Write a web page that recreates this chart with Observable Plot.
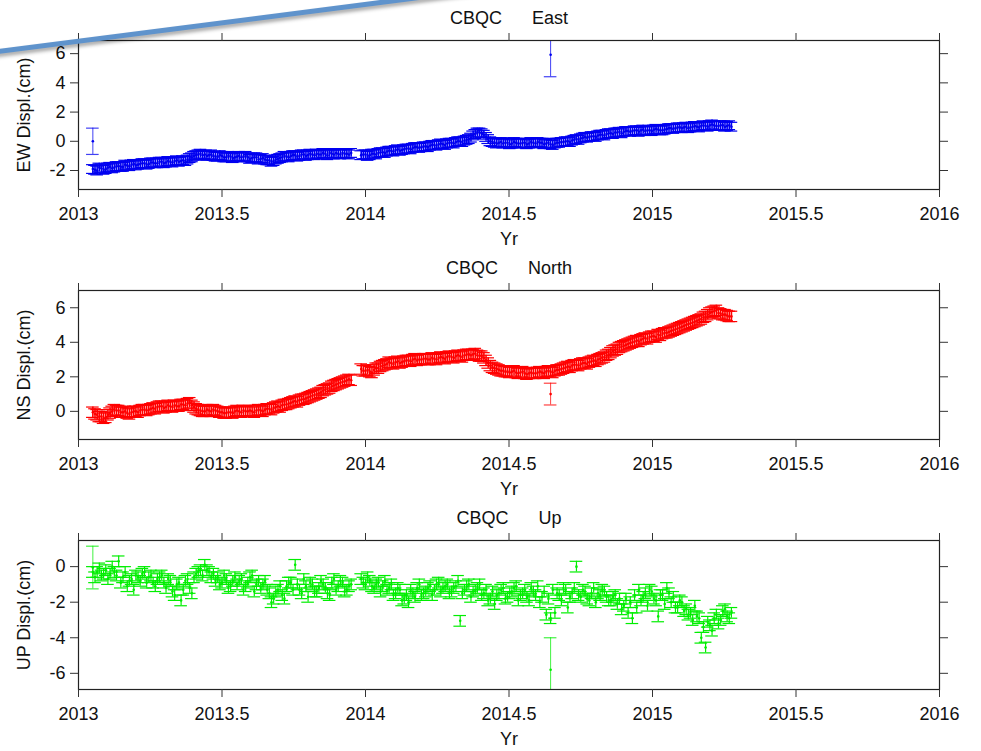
<!DOCTYPE html>
<html>
<head>
<meta charset="utf-8">
<script src="https://cdn.jsdelivr.net/npm/d3@7"></script>
<script src="https://cdn.jsdelivr.net/npm/@observablehq/plot@0.6"></script>
<style>
  html, body { margin: 0; padding: 0; background: #fff; }
  #wrap { position: relative; width: 981px; height: 751px; overflow: hidden; }
  #wrap svg { display: block; }
  #deco { position: absolute; left: -10px; top: 50px; width: 520px; height: 5px; background: #5f93cc;
          transform-origin: 0 50%; transform: rotate(-7.3deg); box-shadow: 1px 3px 4px rgba(0,0,0,0.35); }
</style>
</head>
<body>
<div id="wrap"></div>
<script>
// ---- data (cm), daily GPS solution samples ----
const station = "CBQC";
const segStart = [2013.05, 2013.985];   // start of the two data segments (yr)
const step = 0.015;                     // sampling interval (yr); second set is offset by half a step
const xTicks = [2013, 2013.5, 2014, 2014.5, 2015, 2015.5, 2016];

const eastA = [-1.9,-2.0,-1.85,-1.9,-1.75,-1.8,-1.7,-1.75,-1.65,-1.6,-1.65,-1.55,-1.5,-1.55,-1.45,-1.5,-1.4,-1.45,-1.4,-1.35,-1.4,-1.3,-1.25,-1.1,-0.95,-0.85,-0.9,-0.95,-1.0,-1.05,-1.0,-1.1,-1.05,-1.1,-1.0,-1.05,-1.1,-1.15,-1.1,-1.2,-1.25,-1.3,-1.35,-1.2,-1.1,-1.05,-1.0,-0.95,-1.0,-0.9,-0.95,-0.9,-0.85,-0.9,-0.85,-0.8,-0.9,-0.85,-0.8,-0.85,-0.8];
const eastA2 = [-1.95,-1.8,-1.95,-1.8,-1.85,-1.7,-1.75,-1.6,-1.7,-1.55,-1.6,-1.5,-1.6,-1.45,-1.5,-1.4,-1.5,-1.35,-1.45,-1.3,-1.35,-1.35,-1.15,-1.0,-0.9,-0.95,-1.0,-0.9,-1.05,-0.95,-1.1,-1.0,-1.15,-1.05,-1.1,-1.0,-1.2,-1.1,-1.25,-1.15,-1.3,-1.4,-1.25,-1.15,-1.0,-1.1,-0.95,-1.05,-0.9,-1.0,-0.85,-0.95,-0.9,-0.8,-0.95,-0.85,-0.8,-0.9,-0.85,-0.9];
const eastB = [-0.95,-0.9,-0.95,-0.85,-0.8,-0.75,-0.7,-0.65,-0.6,-0.65,-0.55,-0.5,-0.45,-0.4,-0.4,-0.35,-0.3,-0.25,-0.2,-0.2,-0.15,-0.1,-0.05,0.0,0.05,0.15,0.4,0.6,0.55,0.3,0.0,-0.1,-0.1,-0.15,-0.1,-0.15,-0.1,-0.15,-0.1,-0.15,-0.1,-0.05,-0.1,-0.15,-0.2,-0.15,-0.1,-0.05,0.0,0.05,0.15,0.2,0.3,0.3,0.35,0.4,0.45,0.5,0.55,0.6,0.65,0.65,0.7,0.7,0.75,0.75,0.7,0.75,0.8,0.8,0.75,0.85,0.9,0.9,0.95,0.95,0.9,1.0,1.0,1.05,1.05,1.1,1.1,1.05,1.1,1.05,1.0];
const eastB2 = [-0.9,-1.0,-0.85,-0.9,-0.75,-0.8,-0.65,-0.7,-0.55,-0.6,-0.5,-0.55,-0.4,-0.45,-0.35,-0.4,-0.25,-0.3,-0.15,-0.25,-0.1,-0.15,0.0,-0.05,0.1,0.25,0.5,0.6,0.45,0.15,-0.05,-0.15,-0.05,-0.1,-0.2,-0.05,-0.15,-0.1,-0.2,-0.05,-0.15,-0.1,-0.2,-0.1,-0.25,-0.1,-0.05,0.0,-0.05,0.1,0.1,0.25,0.25,0.35,0.3,0.45,0.4,0.55,0.5,0.6,0.55,0.7,0.65,0.75,0.65,0.8,0.75,0.7,0.85,0.75,0.8,0.9,0.85,0.95,0.9,1.0,0.95,1.05,0.95,1.1,1.0,1.15,1.05,1.1,1.0,1.1];
const northA = [-0.05,-0.2,-0.3,-0.35,-0.1,0.1,0.05,-0.05,-0.1,-0.05,0.0,0.05,0.1,0.1,0.2,0.25,0.3,0.25,0.3,0.35,0.3,0.4,0.45,0.35,0.15,0.05,0.0,0.05,0.1,0.0,-0.05,-0.1,-0.05,0.0,0.0,0.05,0.0,0.0,0.05,0.05,0.1,0.15,0.2,0.3,0.35,0.4,0.5,0.6,0.65,0.7,0.8,0.9,1.0,1.1,1.25,1.35,1.5,1.6,1.7,1.8,1.8];
const northA2 = [-0.15,-0.3,-0.4,-0.2,0.0,0.05,-0.05,0.0,-0.15,0.0,-0.05,0.1,0.05,0.15,0.15,0.3,0.2,0.35,0.25,0.3,0.4,0.35,0.5,0.25,0.1,0.0,0.1,0.0,0.05,-0.05,-0.1,-0.05,-0.1,0.05,-0.05,0.0,0.05,-0.05,0.1,0.0,0.15,0.1,0.25,0.25,0.4,0.45,0.55,0.55,0.7,0.75,0.85,0.95,1.05,1.2,1.3,1.45,1.55,1.65,1.75,1.85];
const northB = [2.45,2.35,2.3,2.4,2.5,2.65,2.75,2.8,2.85,2.8,2.9,2.95,3.0,2.95,3.0,3.05,3.0,3.05,3.1,3.1,3.15,3.15,3.2,3.2,3.25,3.3,3.3,3.25,3.2,2.95,2.65,2.5,2.4,2.35,2.3,2.3,2.25,2.25,2.2,2.2,2.2,2.25,2.25,2.3,2.3,2.35,2.4,2.5,2.6,2.65,2.7,2.75,2.8,2.85,2.95,3.0,3.1,3.25,3.4,3.55,3.7,3.8,3.9,4.0,4.1,4.15,4.25,4.3,4.35,4.45,4.5,4.55,4.65,4.75,4.85,4.95,5.05,5.15,5.25,5.35,5.5,5.7,5.8,5.7,5.6,5.55,5.5];
const northB2 = [2.35,2.4,2.25,2.5,2.6,2.7,2.85,2.75,2.9,2.85,2.95,2.9,3.05,3.0,3.05,3.0,3.1,3.0,3.15,3.05,3.2,3.1,3.25,3.15,3.3,3.25,3.35,3.2,3.1,2.8,2.55,2.45,2.35,2.3,2.25,2.35,2.2,2.3,2.15,2.25,2.2,2.3,2.2,2.35,2.25,2.4,2.45,2.55,2.55,2.7,2.65,2.8,2.75,2.9,2.9,3.05,3.15,3.3,3.5,3.6,3.75,3.85,3.95,4.05,4.05,4.2,4.2,4.35,4.3,4.4,4.55,4.6,4.7,4.8,4.9,5.0,5.1,5.2,5.3,5.45,5.6,5.75,5.85,5.65,5.6,5.5];
const upA = [-0.3,-0.3,-0.5,-0.2,-0.4,-0.3,0.3,-0.6,-1.1,-0.7,-0.5,-0.8,-0.3,-0.6,-0.9,-0.7,-0.5,-1.2,-0.8,-1.6,-0.9,-1.3,-0.7,-1.5,-0.4,-0.2,0.1,-0.3,-0.4,-0.6,-0.9,-0.7,-1.1,-0.6,-0.8,-1.3,-0.9,-0.5,-1.0,-1.2,-0.8,-1.5,-1.8,-1.3,-1.6,-1.1,-0.9,0.1,-1.3,-0.7,-1.7,-1.0,-1.4,-0.8,-1.2,-1.6,-0.7,-1.1,-0.9,-1.3,-1.0];
const upA2 = [-0.6,-0.1,-0.4,-0.7,0.0,-0.5,-0.9,-0.3,-0.8,-1.3,-0.6,-0.4,-0.9,-0.5,-1.1,-0.6,-0.9,-0.7,-1.4,-1.0,-1.9,-0.8,-1.2,-0.6,-0.3,-0.5,-0.2,-0.6,-0.8,-1.0,-0.5,-1.2,-0.8,-1.0,-0.7,-1.1,-0.6,-1.4,-0.8,-1.0,-1.3,-2.0,-1.4,-1.1,-1.8,-0.9,-1.3,-1.0,-1.5,-1.1,-0.9,-1.4,-1.2,-1.0,-1.5,-0.9,-1.3,-0.8,-1.4,-1.1];
const upB = [-0.7,-1.0,-0.8,-1.2,-0.9,-1.1,-1.3,-1.0,-1.5,-1.3,-1.8,-2.0,-1.5,-1.2,-1.6,-1.4,-1.1,-1.3,-0.9,-1.2,-1.0,-1.4,-1.1,-3.05,-1.3,-1.0,-1.4,-1.2,-1.6,-1.3,-1.8,-2.1,-1.5,-1.2,-1.7,-1.4,-1.1,-1.6,-1.3,-1.9,-1.4,-1.1,-1.7,-2.7,-2.9,-2.6,-1.6,-1.2,-2.3,-1.5,0.0,-1.7,-1.4,-1.9,-1.2,-1.5,-1.3,-1.7,-1.9,-1.6,-1.8,-2.2,-2.6,-2.9,-2.3,-1.9,-1.5,-1.3,-1.8,-2.8,-1.6,-1.2,-2.0,-2.3,-1.9,-2.5,-2.7,-3.0,-2.8,-4.0,-4.55,-3.3,-2.9,-3.2,-2.5,-2.8,-2.6];
const upB2 = [-0.9,-0.6,-1.1,-1.0,-1.4,-0.8,-1.2,-1.6,-1.2,-1.9,-1.6,-1.3,-1.7,-1.0,-1.5,-1.2,-1.6,-1.0,-1.4,-1.1,-1.5,-1.2,-0.8,-1.5,-1.1,-1.7,-1.3,-1.0,-1.5,-1.9,-1.4,-1.6,-1.3,-1.8,-1.5,-1.2,-1.9,-1.5,-1.7,-1.2,-1.6,-2.0,-1.4,-1.8,-1.3,-1.5,-1.9,-1.3,-1.7,-1.2,-1.6,-1.3,-1.8,-1.5,-2.0,-1.6,-1.4,-1.9,-1.7,-2.1,-2.4,-1.8,-2.0,-1.6,-1.3,-1.7,-2.2,-1.4,-1.9,-1.6,-2.1,-1.5,-1.7,-2.3,-2.0,-2.4,-2.6,-2.2,-2.9,-3.4,-3.1,-3.6,-2.7,-3.0,-2.4,-2.9];
const errE = 0.3, errN = 0.3, errU = 0.3;

// isolated points with large uncertainty
const eastOutT = [2013.05, 2014.645], eastOutV = [0.0, 5.92], eastOutE = [0.9, 1.5];
const northOutT = [2014.645], northOutV = [1.0], northOutE = [0.63];
const upOutT = [2013.05, 2014.645], upOutV = [-0.05, -5.8], upOutE = [1.2, 1.8];

const panels = [
  {comp: "East",  ylabel: "EW Displ.(cm)", sets: [eastA, eastB, eastA2, eastB2],   err: errE, oT: eastOutT,  oV: eastOutV,  oE: eastOutE,  yDomain: [-3.3, 6.9],  yTicks: [-2, 0, 2, 4, 6], color: "#0000f0", sw: 1.6},
  {comp: "North", ylabel: "NS Displ.(cm)", sets: [northA, northB, northA2, northB2], err: errN, oT: northOutT, oV: northOutV, oE: northOutE, yDomain: [-1.63, 7.0], yTicks: [0, 2, 4, 6],     color: "#ff0000", sw: 1.6},
  {comp: "Up",    ylabel: "UP Displ.(cm)", sets: [upA, upB, upA2, upB2],           err: errU, oT: upOutT,    oV: upOutV,    oE: upOutE,    yDomain: [-6.91, 1.47], yTicks: [-6, -4, -2, 0], color: "#00ee00", sw: 1.2}
];

const cap = 0.022;
const fmt = d => String(d);
const wrap = document.getElementById("wrap");

panels.forEach((p, k) => {
  const [a, b, a2, b2] = p.sets;
  const rows = (arr, t0) => arr.map((v, i) => ({t: t0 + i * step, v, e: p.err}));
  const data = [
    ...rows(a, segStart[0]), ...rows(b, segStart[1]),
    ...rows(a2, segStart[0] + step / 2), ...rows(b2, segStart[1] + step / 2)
  ];
  const outs = p.oT.map((t, i) => ({t, v: p.oV[i], e: p.oE[i]}));
  const errMarks = (arr, sw, op) => [
    Plot.ruleX(arr, {x: "t", y1: d => d.v - d.e, y2: d => d.v + d.e, stroke: p.color, strokeWidth: sw, strokeOpacity: op, clip: true}),
    Plot.ruleY(arr, {y: d => d.v + d.e, x1: d => d.t - cap, x2: d => d.t + cap, stroke: p.color, strokeWidth: 1.2, strokeOpacity: op, clip: true}),
    Plot.ruleY(arr, {y: d => d.v - d.e, x1: d => d.t - cap, x2: d => d.t + cap, stroke: p.color, strokeWidth: 1.2, strokeOpacity: op, clip: true}),
    Plot.dot(arr, {x: "t", y: "v", r: 1.3, fill: p.color, stroke: null, clip: true})
  ];
  const svg = Plot.plot({
    width: 981,
    height: k === 2 ? 251 : 250,
    marginLeft: 78,
    marginRight: 42,
    marginTop: 40,
    marginBottom: k === 2 ? 62 : 61,
    style: {fontFamily: "'Liberation Sans', Arial, Helvetica, sans-serif", fontSize: "18px", color: "#111", background: "white"},
    x: {domain: [2013, 2016]},
    y: {domain: p.yDomain},
    marks: [
      ...errMarks(data, p.sw, 1),
      ...errMarks(outs, 1, 0.75),
      Plot.frame({stroke: "#222", strokeWidth: 1.2}),
      Plot.axisX({anchor: "bottom", ticks: xTicks, tickFormat: fmt, tickSize: 8, tickPadding: 10, label: null, stroke: "#333"}),
      Plot.axisX({anchor: "top", ticks: xTicks, tickFormat: () => "", tickSize: 8, label: null, stroke: "#333"}),
      Plot.axisY({anchor: "left", ticks: p.yTicks, tickFormat: fmt, tickSize: 8, tickPadding: 5, label: null, stroke: "#333"}),
      Plot.axisY({anchor: "right", ticks: p.yTicks, tickFormat: () => "", tickSize: 8, label: null, stroke: "#333"}),
      Plot.text([`${station}\u00a0\u00a0\u00a0\u00a0\u00a0\u00a0${p.comp}`], {frameAnchor: "top", dy: -22, lineAnchor: "middle", fill: "#111"}),
      Plot.text(["Yr"], {frameAnchor: "bottom", dy: 50, lineAnchor: "middle", fill: "#111"}),
      Plot.text([p.ylabel], {frameAnchor: "left", dx: -54, rotate: -90, lineAnchor: "middle", textAnchor: "middle", fill: "#111"})
    ]
  });
  wrap.appendChild(svg);
});

const deco = document.createElement("div");
deco.id = "deco";
wrap.appendChild(deco);
</script>
</body>
</html>
